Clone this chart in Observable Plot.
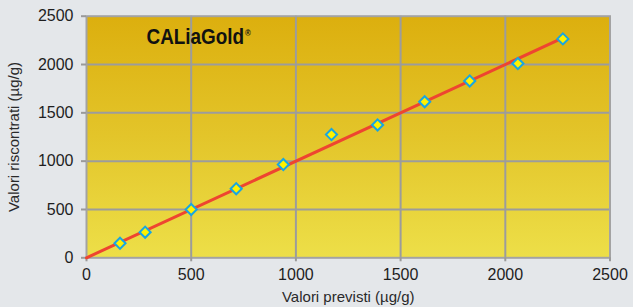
<!DOCTYPE html>
<html>
<head>
<meta charset="utf-8">
<script src="https://cdn.jsdelivr.net/npm/d3@7"></script>
<script src="https://cdn.jsdelivr.net/npm/@observablehq/plot@0.6"></script>
<style>
  html, body { margin: 0; padding: 0; background: #e4e7ea; }
  #chart { width: 633px; height: 307px; }
</style>
</head>
<body>
<div id="chart"></div>
<script>
// Data
const predicted = [160, 280, 500, 715, 940, 1170, 1390, 1615, 1830, 2060, 2275];
const found     = [150, 265, 500, 715, 965, 1275, 1375, 1615, 1830, 2010, 2265];
const fitX = [0, 2275];
const fitY = [0, 2275];
const ticks = [0, 500, 1000, 1500, 2000, 2500];
const gridTicks = [500, 1000, 1500, 2000];
const brand = "CALiaGold";
const brandMark = "®";
const xLabel = "Valori previsti (µg/g)";
const yLabel = "Valori riscontrati (µg/g)";

const points = predicted.map((x, i) => ({x, y: found[i]}));
const fit = fitX.map((x, i) => ({x, y: fitY[i]}));

const gridColor = "#9c9c9c";
const font = "'Liberation Sans', Arial, sans-serif";
const fmt = d => String(d);

const svg = Plot.plot({
  width: 633,
  height: 307,
  marginLeft: 86,
  marginRight: 23.5,
  marginTop: 15.7,
  marginBottom: 49.7,
  style: {background: "#e4e7ea", fontFamily: font, fontSize: "16px", color: "#1e1e1e", overflow: "visible"},
  x: {domain: [0, 2500]},
  y: {domain: [0, 2500]},
  marks: [
    Plot.frame({fill: "#e4c62a", stroke: "none"}),
    Plot.gridX(gridTicks, {stroke: gridColor, strokeWidth: 2, strokeOpacity: 1}),
    Plot.gridY(gridTicks, {stroke: gridColor, strokeWidth: 2, strokeOpacity: 1}),
    Plot.frame({stroke: "#a3a3a3", strokeWidth: 2}),
    Plot.axisX({ticks, tickFormat: fmt, tickSize: 4, tickPadding: 7, stroke: "#9a9a9a", strokeWidth: 2, fontSize: 16, fill: "#1e1e1e",
      label: xLabel, labelAnchor: "center", labelArrow: "none", labelOffset: 44}),
    Plot.axisY({ticks, tickFormat: fmt, tickSize: 5, tickPadding: 8, stroke: "#9a9a9a", strokeWidth: 2, fontSize: 16, fill: "#1e1e1e",
      label: yLabel, labelAnchor: "center", labelArrow: "none", labelOffset: 78}),
    Plot.line(fit, {x: "x", y: "y", stroke: "#ee4530", strokeWidth: 3}),
    Plot.dot(points, {x: "x", y: "y", symbol: "diamond2", r: 5, fill: "#fff200", stroke: "#18a6e2", strokeWidth: 2, fillOpacity: 1}),
    Plot.text([brand + brandMark], {text: d => d, frameAnchor: "top-left", dx: 60, dy: 12, textAnchor: "start", lineAnchor: "top",
      fontSize: 22, fontWeight: "bold", fill: "#111", fontFamily: font, className: "brand"})
  ]
});

// vertical gradient background of the plotting area
const ns = "http://www.w3.org/2000/svg";
const defs = document.createElementNS(ns, "defs");
defs.innerHTML = `<linearGradient id="bggrad" x1="0" y1="0" x2="0" y2="1">
  <stop offset="0" stop-color="#dcaf0e"/>
  <stop offset="0.5" stop-color="#e3c52a"/>
  <stop offset="1" stop-color="#eddf48"/>
</linearGradient>`;
svg.insertBefore(defs, svg.firstChild);
svg.querySelectorAll("[fill='#e4c62a']").forEach(el => el.setAttribute("fill", "url(#bggrad)"));
svg.querySelectorAll("[aria-label='x-axis label'], [aria-label='y-axis label']").forEach(el => {
  el.setAttribute("font-size", "15");
  el.setAttribute("fill", "#2a2a2a");
});

// brand: small superscript ®, horizontally condensed like the reference logo
const bt = svg.querySelector(".brand text");
if (bt) {
  bt.textContent = brand;
  const ts = document.createElementNS(ns, "tspan");
  ts.textContent = brandMark;
  ts.setAttribute("font-size", "9");
  ts.setAttribute("dy", "-0.9em");
  ts.setAttribute("dx", "1");
  bt.appendChild(ts);
  const t0 = bt.getAttribute("transform") || "";
  bt.setAttribute("transform", (t0 + " scale(0.86,1)").trim());
}

document.getElementById("chart").appendChild(svg);
</script>
</body>
</html>
